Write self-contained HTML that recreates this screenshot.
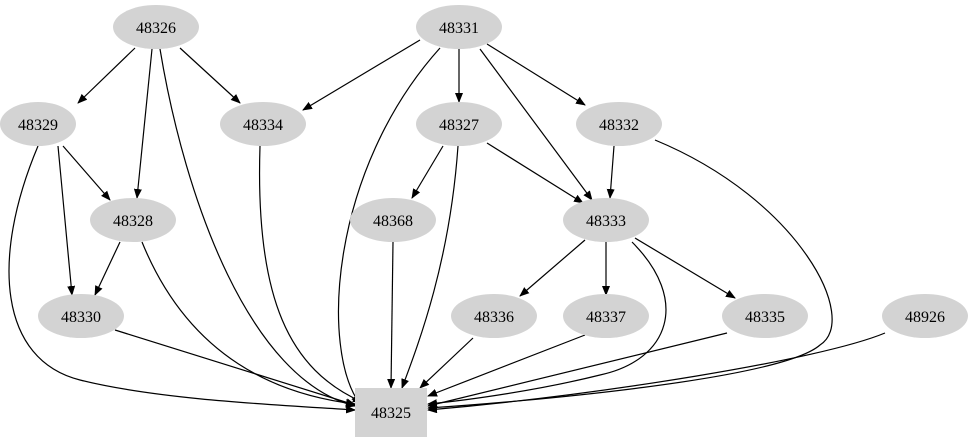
<!DOCTYPE html>
<html><head><meta charset="utf-8"><style>body{margin:0;background:#fff}svg{display:block}</style></head><body>
<svg width="975" height="443" viewBox="0 0 975 443" xmlns="http://www.w3.org/2000/svg">
<defs><marker id="a" markerWidth="10" markerHeight="8" refX="9" refY="4" orient="auto" markerUnits="userSpaceOnUse"><path d="M0,0 L10,4 L0,8 z" fill="#000"/></marker></defs>
<g fill="none" stroke="#000" stroke-width="1.2" marker-end="url(#a)">
<path d="M135,48 L78,103"/>
<path d="M180,48 L240,103"/>
<path d="M152,49 L137,198"/>
<path d="M160,49 C185,200 250,380 355,406"/>
<path d="M420,40 L303,110"/>
<path d="M459,49 L459,102"/>
<path d="M487,44 L585,105"/>
<path d="M480,49 L592,200"/>
<path d="M440,48 C330,170 320,350 360,404"/>
<path d="M63,146 L110,200"/>
<path d="M58,146 L72,295"/>
<path d="M38,146 C-10,260 0,360 80,380 C160,400 280,405 355,410"/>
<path d="M260,146 C255,300 290,370 362,402"/>
<path d="M443,146 L412,198"/>
<path d="M487,143 L583,203"/>
<path d="M458,146 C450,260 420,340 402,388"/>
<path d="M614,146 L610,198"/>
<path d="M655,140 C800,200 860,320 820,345 C780,380 520,402 428,408"/>
<path d="M120,242 L95,295"/>
<path d="M142,242 C190,360 280,395 355,404"/>
<path d="M393,242 L391,388"/>
<path d="M585,240 L520,296"/>
<path d="M606,242 L606,295"/>
<path d="M635,238 L735,298"/>
<path d="M632,242 C690,300 670,360 600,375 C540,390 470,400 428,404"/>
<path d="M115,330 L355,405"/>
<path d="M473,338 L420,388"/>
<path d="M585,335 L428,396"/>
<path d="M727,333 L428,406"/>
<path d="M885,333 C820,360 600,395 428,410"/>
</g>
<g fill="#d3d3d3">
<ellipse cx="156" cy="27" rx="43" ry="22"/>
<ellipse cx="459" cy="27" rx="43" ry="22"/>
<ellipse cx="38" cy="124" rx="38" ry="22"/>
<ellipse cx="263" cy="124" rx="43" ry="22"/>
<ellipse cx="459" cy="124" rx="43" ry="22"/>
<ellipse cx="619" cy="124" rx="43" ry="22"/>
<ellipse cx="133" cy="220" rx="43" ry="22"/>
<ellipse cx="393" cy="220" rx="43" ry="22"/>
<ellipse cx="606" cy="220" rx="43" ry="22"/>
<ellipse cx="81" cy="316" rx="43" ry="22"/>
<ellipse cx="494" cy="316" rx="43" ry="22"/>
<ellipse cx="606" cy="316" rx="43" ry="22"/>
<ellipse cx="765" cy="316" rx="43" ry="22"/>
<ellipse cx="925" cy="316" rx="43" ry="22"/>
<rect x="355" y="388" width="72" height="49"/>
</g>
<g font-family="Liberation Serif, serif" font-size="16" text-anchor="middle" fill="#000">
<text x="156" y="33">48326</text>
<text x="459" y="33">48331</text>
<text x="38" y="130">48329</text>
<text x="263" y="130">48334</text>
<text x="459" y="130">48327</text>
<text x="619" y="130">48332</text>
<text x="133" y="226">48328</text>
<text x="393" y="226">48368</text>
<text x="606" y="226">48333</text>
<text x="81" y="322">48330</text>
<text x="494" y="322">48336</text>
<text x="606" y="322">48337</text>
<text x="765" y="322">48335</text>
<text x="925" y="322">48926</text>
<text x="391" y="418">48325</text>
</g>
</svg>
</body></html>
